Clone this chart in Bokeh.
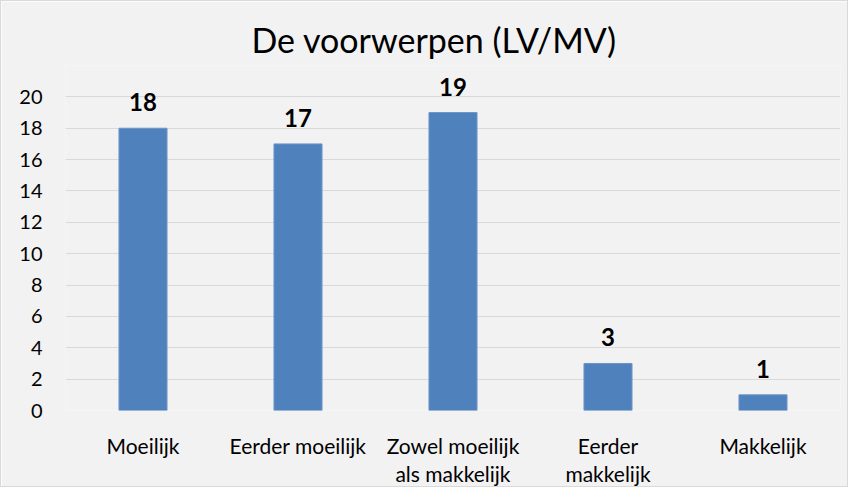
from bokeh.plotting import figure
from bokeh.models import ColumnDataSource, FixedTicker, LabelSet, CategoricalAxis, CustomJSTickFormatter
from bokeh.core.properties import value
from bokeh.embed import file_html
from bokeh.resources import INLINE

categories = ["Moeilijk", "Eerder moeilijk", "Zowel moeilijk als makkelijk", "Eerder makkelijk", "Makkelijk"]
tick_line1 = ["Moeilijk", "Eerder moeilijk", "Zowel moeilijk", "Eerder", "Makkelijk"]
tick_line2 = ["", "", "als makkelijk", "makkelijk", ""]
values = [18, 17, 19, 3, 1]
y_ticks = [0, 2, 4, 6, 8, 10, 12, 14, 16, 18, 20]
title_text = "De voorwerpen (LV/MV)"

FONT = "Lato"
BG = "#F2F2F2"

src = ColumnDataSource(dict(cat=categories, val=values, lab=[str(v) for v in values]))

p = figure(x_range=categories, y_range=(0, 22), width=848, height=487,
           output_backend="svg", toolbar_location=None, tools="",
           background_fill_color=BG, border_fill_color=BG,
           min_border_left=64, min_border_right=9, min_border_top=64, min_border_bottom=78)
p.styles = {"border": "1px solid #D9D9D9", "box-sizing": "border-box"}
p.outline_line_color = None

p.title.text = title_text
p.title.align = "left"
p.title.offset = 186
p.title.text_font = FONT
p.title.text_font_size = "34px"
p.title.text_font_style = "normal"
p.title.text_color = "#000000"
p.title.standoff = 11

p.vbar(x="cat", top="val", width=0.31, source=src,
       fill_color="#4F81BD", line_color="#6E96C8", line_width=1)

labels = LabelSet(x="cat", y="val", text="lab", source=src, text_align="center",
                  text_baseline="bottom", y_offset=17, text_font=value(FONT),
                  text_font_size="24px", text_font_style="bold", text_color="#000000")
p.add_layout(labels)

p.yaxis.ticker = FixedTicker(ticks=y_ticks)
p.ygrid.ticker = FixedTicker(ticks=y_ticks)
p.ygrid.grid_line_color = "#D9D9D9"
p.ygrid.grid_line_width = 1
p.xgrid.grid_line_color = None

xaxis1 = p.xaxis[0]
xaxis2 = CategoricalAxis()
p.add_layout(xaxis2, "below")

js = "const i = cats.indexOf(tick); return i >= 0 ? labs[i] : '';"
xaxis1.formatter = CustomJSTickFormatter(args=dict(cats=categories, labs=tick_line1), code=js)
xaxis2.formatter = CustomJSTickFormatter(args=dict(cats=categories, labs=tick_line2), code=js)

for ax in (xaxis1, p.yaxis[0], xaxis2):
    ax.axis_line_color = None
    ax.major_tick_line_color = None
    ax.minor_tick_line_color = None
    ax.major_tick_out = 0
    ax.major_tick_in = 0
    ax.major_label_text_font = FONT
    ax.major_label_text_font_size = "21px"
    ax.major_label_text_color = "#000000"

p.yaxis.major_label_text_font_size = "20px"
p.yaxis.major_label_standoff = 23
xaxis1.major_label_standoff = 22
xaxis2.major_label_standoff = 0

open("out.html", "w").write(file_html(p, INLINE))
